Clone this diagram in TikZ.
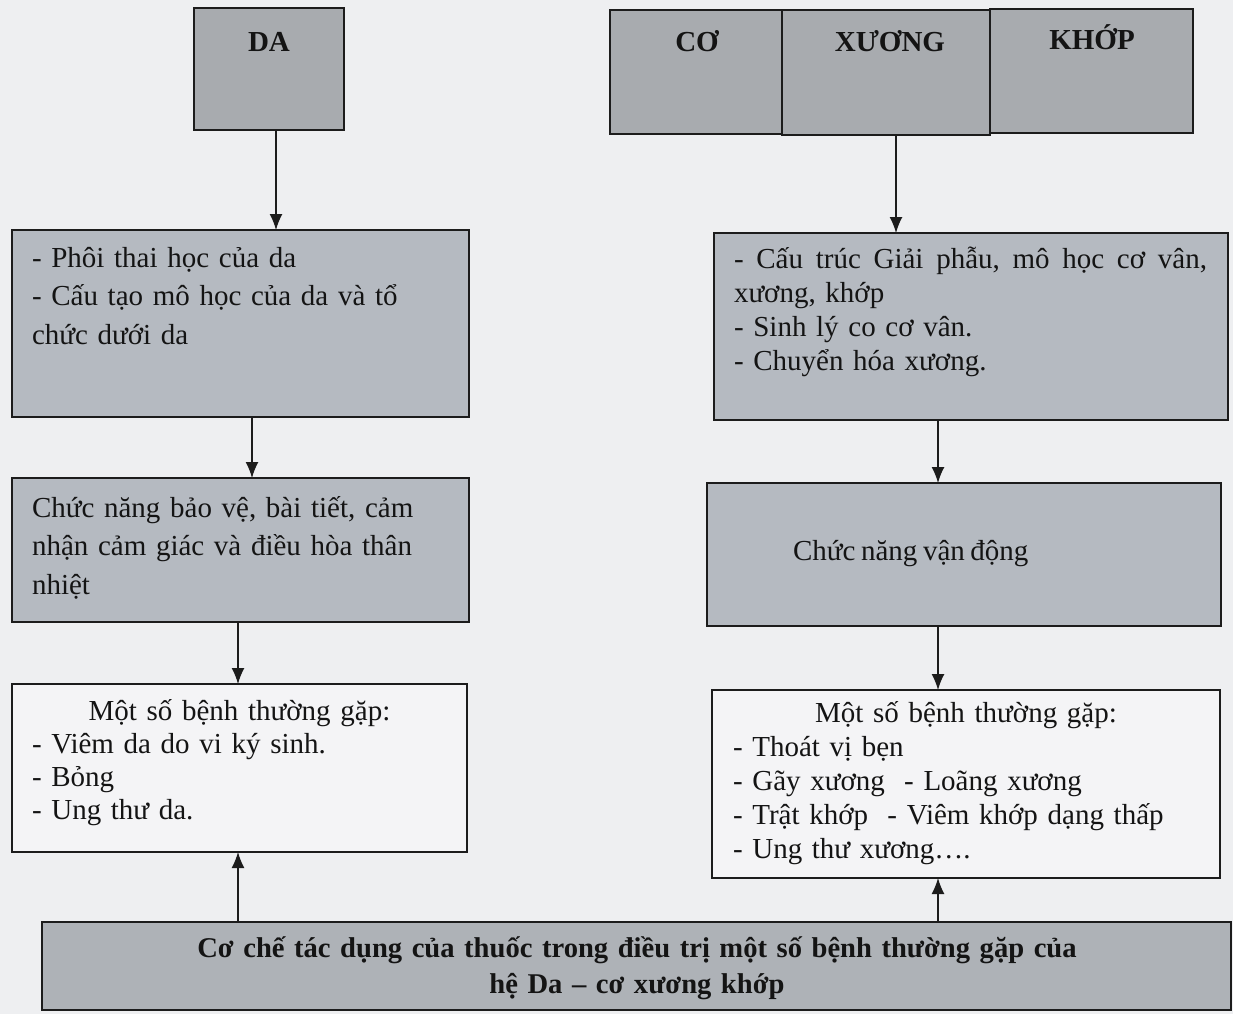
\documentclass[tikz,border=0pt]{standalone}
\usepackage{fontspec}
\setmainfont{Liberation Serif}
\usetikzlibrary{arrows.meta}
\definecolor{bgc}{HTML}{EEEFF1}
\definecolor{topc}{HTML}{A8ABAF}
\definecolor{midc}{HTML}{B5BAC1}
\definecolor{lowc}{HTML}{F4F4F6}
\definecolor{botc}{HTML}{AEB2B7}
\definecolor{linec}{HTML}{1C1C1C}
\definecolor{txtc}{HTML}{141414}
\newcommand{\tsp}{\spaceskip=5.6pt plus 3pt minus 1pt\relax}
\begin{document}
\begin{tikzpicture}[x=1pt,y=-1pt,
  box/.style={draw=linec, line width=1.6pt, inner sep=0pt, outer sep=0pt, anchor=north west},
  arr/.style={draw=linec, line width=1.4pt, -{Latex[length=16pt,width=13pt]}},
  txt/.style={inner sep=0pt, outer sep=0pt, text=txtc, anchor=base west, align=left},
  ttl/.style={inner sep=0pt, outer sep=0pt, text=txtc, anchor=base, font=\fontsize{29}{34}\selectfont\bfseries},
  wide/.style={font=\fontsize{29}{38.5}\selectfont\tsp},
  tight/.style={font=\fontsize{29}{34}\selectfont\tsp}
]
\useasboundingbox (0,0) rectangle (1233,1014);
\fill[bgc] (0,0) rectangle (1233,1014);

% boxes
\node[box, fill=topc, minimum width=150pt, minimum height=122pt] (DA) at (194,8) {};
\node[box, fill=topc, minimum width=172pt, minimum height=124pt] (CO) at (610,10) {};
\node[box, fill=topc, minimum width=208pt, minimum height=125pt] (XUONG) at (782,10) {};
\node[box, fill=topc, minimum width=203pt, minimum height=124pt] (KHOP) at (990,9) {};
\node[box, fill=midc, minimum width=457pt, minimum height=187pt] (L1) at (12,230) {};
\node[box, fill=midc, minimum width=514pt, minimum height=187pt] (R1) at (714,233) {};
\node[box, fill=midc, minimum width=457pt, minimum height=144pt] (L2) at (12,478) {};
\node[box, fill=midc, minimum width=514pt, minimum height=143pt] (R2) at (707,483) {};
\node[box, fill=lowc, minimum width=455pt, minimum height=168pt] (L3) at (12,684) {};
\node[box, fill=lowc, minimum width=508pt, minimum height=188pt] (R3) at (712,690) {};
\node[box, fill=botc, minimum width=1189pt, minimum height=88pt] (BOT) at (42,922) {};

% titles
\node[ttl] (tDA) at (269,52) {DA};
\node[ttl] (tCO) at (697,52) {CƠ};
\node[ttl] (tXU) at (890,52) {XƯƠNG};
\node[ttl] (tKH) at (1092,50) {KHỚP};

% texts
\node[txt, wide, text width=430pt] (xL1) at (32,267)
  {- Phôi thai học của da\\- Cấu tạo mô học của da và tổ\\chức dưới da};
\node[txt, tight, text width=473pt] (xR1) at (734,268)
  {\hbox to 473pt{-\hfil Cấu\hfil trúc\hfil Giải\hfil phẫu,\hfil mô\hfil học\hfil cơ\hfil vân,}\\xương, khớp\\- Sinh lý co cơ vân.\\- Chuyển hóa xương.};
\node[txt, wide, text width=430pt] (xL2) at (32,517)
  {Chức năng bảo vệ, bài tiết, cảm\\nhận cảm giác và điều hòa thân\\nhiệt};
\node[txt, tight] (xR2) at (793,560) {Chức năng vận động};
\node[txt, font=\fontsize{29}{33}\selectfont\tsp, text width=415pt] (xL3) at (32,720)
  {\makebox[415pt][c]{Một số bệnh thường gặp:}\\- Viêm da do vi ký sinh.\\- Bỏng\\- Ung thư da.};
\node[txt, tight, text width=466pt] (xR3) at (733,722)
  {\makebox[466pt][c]{Một số bệnh thường gặp:}\\- Thoát vị bẹn\\- Gãy xương\ \ - Loãng xương\\- Trật khớp\ \ - Viêm khớp dạng thấp\\- Ung thư xương….};
\node[inner sep=0pt, outer sep=0pt, text=txtc, anchor=base, align=center, text width=1150pt,
  font=\fontsize{28.6}{36}\selectfont\bfseries] (xB) at (637,957)
  {Cơ chế tác dụng của thuốc trong điều trị một số bệnh thường gặp của\\hệ Da – cơ xương khớp};

% connector x positions
\coordinate (ca) at (276,0);
\coordinate (cb) at (896,0);
\coordinate (cc) at (252,0);
\coordinate (cd) at (938,0);
\coordinate (ce) at (238,0);

\draw[arr] (DA.south -| ca) -- (L1.north -| ca);
\draw[arr] (XUONG.south -| cb) -- (R1.north -| cb);
\draw[arr] (L1.south -| cc) -- (L2.north -| cc);
\draw[arr] (R1.south -| cd) -- (R2.north -| cd);
\draw[arr] (L2.south -| ce) -- (L3.north -| ce);
\draw[arr] (R2.south -| cd) -- (R3.north -| cd);
\draw[arr] (BOT.north -| ce) -- (L3.south -| ce);
\draw[arr] (BOT.north -| cd) -- (R3.south -| cd);
\end{tikzpicture}
\end{document}
